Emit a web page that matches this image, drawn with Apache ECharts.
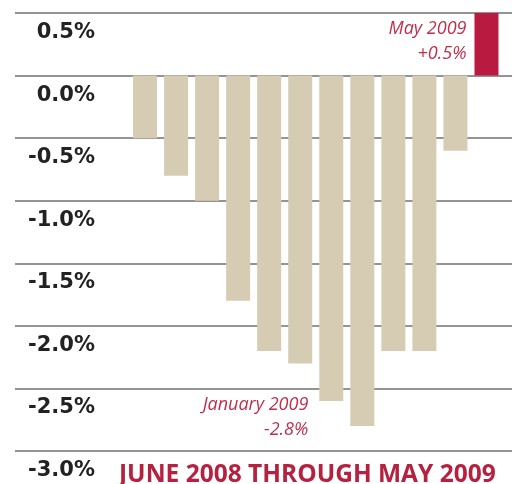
<!DOCTYPE html>
<html>
<head>
<meta charset="utf-8">
<script src="https://cdn.jsdelivr.net/npm/echarts@6/dist/echarts.min.js"></script>
<style>
  html, body { margin: 0; padding: 0; background: #fff; }
  #chart { width: 516px; height: 484px; }
</style>
</head>
<body>
<div id="chart"></div>
<script>
// Data
const months = ['Jun 2008', 'Jul 2008', 'Aug 2008', 'Sep 2008', 'Oct 2008', 'Nov 2008',
                'Dec 2008', 'Jan 2009', 'Feb 2009', 'Mar 2009', 'Apr 2009', 'May 2009'];
const values = [-0.5, -0.8, -1.0, -1.8, -2.2, -2.3, -2.6, -2.8, -2.2, -2.2, -0.6, 0.5];
const yTicks = [0.5, 0.0, -0.5, -1.0, -1.5, -2.0, -2.5, -3.0];
const titleText = 'JUNE 2008 THROUGH MAY 2009';
const annotMonths = ['May 2009', 'Jan 2009'];
const annotTexts = ['May 2009\n+0.5%', 'January 2009\n-2.8%'];

const TAN = '#d6ccb4';
const RED = '#b81a40';
const yMin = Math.min(...yTicks), yMax = Math.max(...yTicks);

const chart = echarts.init(document.getElementById('chart'), null, { renderer: 'canvas' });

const barData = values.map(v => ({
  value: v,
  itemStyle: { color: v > 0 ? RED : TAN }
}));

const annotStyles = [
  { offset: [-20, 28] },
  { offset: [-54, -9] }
];

chart.setOption({
  animation: false,
  backgroundColor: '#ffffff',
  title: {
    text: titleText,
    left: 119,
    top: 463,
    padding: 0,
    textStyle: {
      fontFamily: 'Open Sans',
      fontWeight: 'bold',
      fontSize: 24.5,
      color: '#b5213f'
    }
  },
  grid: [
    { left: 15, right: 4, top: 13, bottom: 33 },
    { left: 129.5, right: 14, top: 13, bottom: 33 }
  ],
  xAxis: [
    { type: 'category', gridIndex: 0, show: false, data: [''] },
    { type: 'category', gridIndex: 1, data: months, show: false }
  ],
  yAxis: [
    {
      type: 'value', gridIndex: 0, min: yMin, max: yMax, interval: 0.5,
      axisLine: { show: false }, axisTick: { show: false },
      splitLine: { show: true, lineStyle: { color: '#707070', width: 1.5 } },
      axisLabel: {
        inside: true,
        margin: 80,
        align: 'right',
        verticalAlign: 'top',
        padding: [9, 0, 0, 0],
        fontFamily: 'DejaVu Sans',
        fontWeight: 'bold',
        fontSize: 21,
        color: '#222222',
        formatter: v => v.toFixed(1) + '%'
      }
    },
    {
      type: 'value', gridIndex: 1, min: yMin, max: yMax, interval: 0.5,
      show: false, splitLine: { show: false }
    }
  ],
  series: [{
    type: 'bar',
    xAxisIndex: 1,
    yAxisIndex: 1,
    data: barData,
    barWidth: 24,
    markPoint: {
      symbol: 'circle',
      symbolSize: 0,
      silent: true,
      data: annotMonths.map((m, i) => ({
        coord: [m, values[months.indexOf(m)]],
        label: {
          show: true,
          formatter: annotTexts[i],
          position: 'inside',
          offset: annotStyles[i].offset,
          align: 'right',
          verticalAlign: 'middle',
          fontFamily: 'Open Sans',
          fontStyle: 'italic',
          fontSize: 18,
          lineHeight: 25,
          color: '#bf2f4b'
        }
      }))
    }
  }]
});
</script>
</body>
</html>
